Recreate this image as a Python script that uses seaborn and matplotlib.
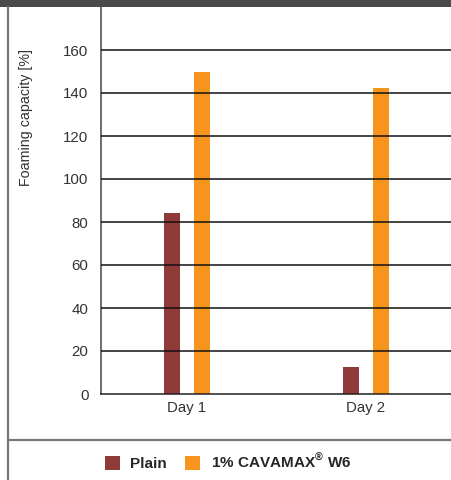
import matplotlib
matplotlib.use("Agg")
import matplotlib.pyplot as plt
from matplotlib.patches import Patch, Rectangle
from matplotlib.lines import Line2D
import seaborn as sns
import pandas as pd

days = ["Day 1", "Day 2"]
series = ["Plain", "1% CAVAMAX$^{®}$ W6"]
plain_values = [84, 12.5]
cavamax_values = [150, 142.5]
y_ticks = [0, 20, 40, 60, 80, 100, 120, 140, 160]
colors = ["#8e3b3a", "#f7941d"]

df = pd.DataFrame({
    "day": days * 2,
    "series": [series[0]] * 2 + [series[1]] * 2,
    "value": plain_values + cavamax_values,
})

sns.set_theme(style="white")
plt.rcParams["font.family"] = ["Liberation Sans", "DejaVu Sans"]
plt.rcParams["mathtext.fontset"] = "custom"
plt.rcParams["mathtext.rm"] = "Liberation Sans:bold"
plt.rcParams["mathtext.bf"] = "Liberation Sans:bold"

W, H = 452, 480
fig = plt.figure(figsize=(W / 100, H / 100), dpi=100)
ax = fig.add_axes([101 / W, (H - 394) / H, 1 - 101 / W, (394 - 7) / H])

sns.barplot(data=df, x="day", y="value", hue="series", palette=colors,
            width=0.336, gap=0.47, legend=False, ax=ax, zorder=1,
            linewidth=0, saturation=1)

ax.set_xlim(-0.48, 1.48)
ax.set_ylim(0, 180)
ax.set_yticks(y_ticks)
ax.set_yticklabels([str(t) for t in y_ticks], fontsize=10.8, color="#333333")
ax.tick_params(axis="x", labelsize=10.8, colors="#333333", length=0, pad=5)
ax.tick_params(axis="y", length=0, pad=9)
ax.set_xlabel("")
ax.set_ylabel("")

for t in y_ticks[1:]:
    ax.axhline(t, color="#111111", lw=1.1, zorder=3)

ax.set_axisbelow(False)
for s in ["top", "right"]:
    ax.spines[s].set_visible(False)
ax.spines["left"].set_color("#555555")
ax.spines["left"].set_linewidth(1.2)
ax.spines["bottom"].set_color("#222222")
ax.spines["bottom"].set_linewidth(1.1)

fig.text(26 / W, (H - 117) / H, "Foaming capacity [%]", rotation=90,
         ha="center", va="center", fontsize=10.3, color="#333333")

# header band and frame lines
fig.add_artist(Rectangle((0, (H - 7) / H), 1, 7 / H, transform=fig.transFigure,
                         facecolor="#4a4a4a", edgecolor="none"))
fig.add_artist(Line2D([8 / W, 8 / W], [0, (H - 7) / H], transform=fig.transFigure,
                      color="#777777", lw=1.6))
fig.add_artist(Line2D([8 / W, 1], [(H - 440) / H, (H - 440) / H],
                      transform=fig.transFigure, color="#777777", lw=1.6))

handles = [Patch(facecolor=c, edgecolor="none") for c in colors]
fig.legend(handles, series, loc="center", bbox_to_anchor=(228 / W, (H - 462) / H),
           ncol=2, frameon=False, handlelength=0.95, handleheight=0.95,
           handletextpad=0.7, columnspacing=1.2,
           prop={"weight": "bold", "size": 11})

fig.savefig("out.png", dpi=100)
